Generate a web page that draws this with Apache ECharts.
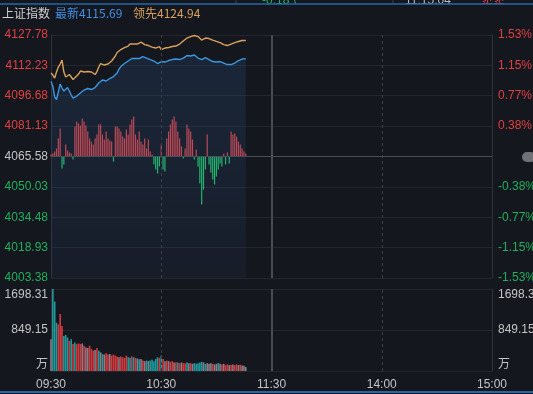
<!DOCTYPE html>
<html><head><meta charset="utf-8">
<script src="https://cdn.jsdelivr.net/npm/echarts@6/dist/echarts.min.js"></script>
<style>html,body{margin:0;padding:0;background:#15171f;}#c{width:533px;height:394px;}</style>
</head><body><div id="c"></div>
<script>
const tickTimes = ['09:30','10:30','11:30','14:00','15:00'];
const priceTicks = ['4003.38','4018.93','4034.48','4050.03','4065.58','4081.13','4096.68','4112.23','4127.78'];
const pctTicks = ['-1.53%','-1.15%','-0.77%','-0.38%','','0.38%','0.77%','1.15%','1.53%'];
const volTicks = ['万','849.15','1698.31'];
const preClose = 4065.58;
const priceMin = 4003.38, priceMax = 4127.78, priceStep = 15.55;
const volMax = 1698.31;

// 最新 (index)
const latest = [4103.96,4101.65,4096.03,4094.75,4098.58,4102.68,4100.63,4099.10,4100.12,4100.89,
4099.10,4097.05,4095.51,4094.75,4096.54,4097.31,4098.07,4098.33,4099.61,4100.12,
4100.38,4100.63,4099.86,4099.86,4100.89,4101.65,4103.19,4104.21,4104.73,4104.47,
4104.21,4104.98,4105.49,4106.26,4106.52,4107.03,4108.31,4110.35,4111.63,4112.40,
4113.17,4113.68,4114.45,4115.21,4115.73,4115.98,4115.73,4115.21,4115.73,4116.49,
4116.75,4116.24,4115.98,4115.73,4115.21,4114.96,4114.45,4113.94,4113.17,4113.68,
4114.19,4114.45,4113.94,4114.19,4114.70,4115.21,4115.21,4115.73,4115.47,4115.21,
4115.21,4115.47,4115.98,4116.49,4117.26,4117.52,4117.01,4117.01,4117.52,4117.01,
4115.98,4115.47,4115.21,4115.98,4116.24,4115.73,4115.21,4114.70,4114.19,4113.68,
4113.94,4114.19,4114.19,4113.68,4113.43,4113.17,4112.66,4112.40,4112.66,4113.17,
4113.43,4114.19,4114.70,4115.21,4115.47,4115.57,4115.69];
// 领先
const leading = [4108.31,4107.28,4105.75,4108.82,4111.38,4112.91,4114.96,4108.82,4106.26,4106.77,
4107.54,4106.26,4104.98,4105.75,4106.77,4107.80,4109.33,4109.84,4108.82,4108.31,
4109.07,4109.48,4108.82,4108.05,4107.54,4109.07,4111.38,4113.17,4112.66,4112.40,
4112.91,4112.91,4113.42,4114.45,4115.47,4117.01,4118.80,4119.82,4120.33,4121.10,
4121.36,4121.61,4122.12,4123.15,4123.66,4123.15,4122.89,4123.15,4123.66,4124.17,
4123.66,4122.89,4122.63,4122.38,4121.87,4121.61,4121.36,4121.10,4121.61,4121.87,
4120.33,4120.84,4121.10,4121.36,4121.36,4121.61,4121.87,4121.87,4122.12,4122.63,
4123.15,4123.66,4124.68,4125.70,4126.22,4126.47,4126.98,4127.24,4127.50,4127.75,
4126.98,4126.22,4125.19,4124.94,4126.22,4126.47,4125.96,4125.45,4125.19,4124.94,
4124.53,4124.17,4123.91,4123.40,4122.89,4122.63,4122.38,4122.89,4123.15,4123.66,
4123.91,4124.17,4124.43,4124.68,4124.94,4125.19,4124.94];
// red/green strength bars (points around previous close)
const strength = [1.0,1.5,2.6,4.1,9.2,14.3,-6.1,-4.1,6.1,3.1,
2.0,1.5,-1.5,15.4,17.9,16.9,15.9,19.4,17.9,15.9,
12.8,9.2,7.7,6.1,9.2,11.3,16.4,16.4,11.3,8.7,
12.8,9.2,8.2,7.7,-2.6,15.4,15.4,14.3,12.8,10.2,
9.2,13.8,11.3,16.4,18.9,20.5,11.3,8.7,12.8,7.7,
6.1,9.2,4.1,8.7,2.6,1.0,-4.1,-6.7,-8.7,-5.1,
6.1,-6.7,-7.7,9.2,12.8,16.4,18.9,20.5,17.9,12.8,
9.2,5.1,-1.0,4.1,16.4,14.3,12.8,8.7,-1.5,3.6,
-5.1,-13.8,-24.6,-16.9,-6.7,11.3,-4.1,-8.2,-11.8,-14.3,
-10.2,-6.7,-3.6,-5.1,1.5,-4.1,2.0,-3.6,12.8,11.3,
11.8,10.2,7.7,6.1,4.1,2.6,1.5];
// volume (万)
const volume = [659,1698,1440,999,965,1182,931,727,747,693,
625,659,557,591,557,571,557,571,523,489,
476,523,455,421,435,476,421,387,353,340,
367,340,353,319,340,319,299,285,299,285,
272,319,285,272,299,285,272,258,245,251,
217,204,217,204,217,231,204,251,285,272,
319,251,204,217,204,190,204,177,183,177,
163,177,163,163,177,163,163,149,163,149,
163,177,190,177,149,163,149,163,149,136,
149,163,149,136,149,122,136,122,129,136,
122,136,122,129,115,109,82];
// volume direction: r up, g down, n flat
const volDir = ['n','g','g','g','r','r','r','g','g','g',
'r','g','r','g','r','r','r','n','r','n',
'n','r','r','r','n','r','g','n','g','n',
'r','r','n','r','r','r','r','n','r','r',
'r','r','g','g','r','g','r','n','g','n',
'r','n','g','n','g','g','g','g','g','r',
'g','r','n','r','n','r','r','n','r','g',
'r','n','r','r','g','n','r','n','g','g',
'g','g','g','n','g','n','n','n','r','n',
'n','g','n','r','n','r','r','n','r','n',
'r','r','n','r','n','n','n'];

function pad(n){return (n<10?'0':'')+n;}
function buildTimes(){
  const t=[];
  for(let m=9*60+30;m<=11*60+30;m++) t.push(pad(Math.floor(m/60))+':'+pad(m%60));
  for(let m=13*60+1;m<=15*60;m++) t.push(pad(Math.floor(m/60))+':'+pad(m%60));
  return t;
}
const times = buildTimes();

const RED='#e0403f', GREEN='#1faf5c', GREY='#c4c4c4';
const FONT='"Liberation Sans", Arial, "Noto Sans CJK SC", sans-serif';
const gridLine='#23262f', borderLine='#2e323c';
const span = priceMax - preClose;

function priceColor(v){ const n=Number(v); return Math.abs(n-preClose)<0.001?GREY:(n>preClose?RED:GREEN); }
const volColors = {r:'#d23a3e', g:'#1f9a9c', n:'#8c7c88'};

const vLines = [
  {xAxis:'10:30', lineStyle:{type:[3,3], color:'#3a3e4a', width:1}},
  {xAxis:'11:30', lineStyle:{type:'solid', color:'#474b57', width:2}},
  {xAxis:'14:00', lineStyle:{type:[3,3], color:'#3a3e4a', width:1}}
];
const markV = {silent:true, symbol:['none','none'], label:{show:false}, data:vLines, animation:false};

const chart = echarts.init(document.getElementById('c'), null, {renderer:'canvas'});
chart.setOption({
  backgroundColor:'#15171f',
  animation:false,
  textStyle:{fontFamily:FONT},
  grid:[
    {left:51, top:35, width:441, height:243, containLabel:false, outerBoundsMode:'none'},
    {left:51, top:289, width:441, height:82, containLabel:false, outerBoundsMode:'none'}
  ],
  xAxis:[
    {type:'category', gridIndex:0, data:times, boundaryGap:false,
     axisLine:{show:false}, axisTick:{show:false}, axisLabel:{show:false}, splitLine:{show:false}},
    {type:'category', gridIndex:1, data:times, boundaryGap:false,
     axisLine:{show:false}, axisTick:{show:false}, splitLine:{show:false},
     axisLabel:{show:true, color:'#c4c4c4', fontSize:12, fontFamily:FONT, margin:8, hideOverlap:false,
       interval:(i,v)=>tickTimes.indexOf(v)>=0}}
  ],
  yAxis:[
    {type:'value', gridIndex:0, position:'left', min:priceMin, max:priceMax, interval:priceStep,
     axisLine:{show:true, lineStyle:{color:borderLine}}, axisTick:{show:false},
     splitLine:{show:true, lineStyle:{color:gridLine}},
     axisLabel:{margin:3, fontSize:12, fontFamily:FONT, formatter:(v,i)=>priceTicks[i], color:(v)=>priceColor(v)}},
    {type:'value', gridIndex:0, position:'right', min:priceMin, max:priceMax, interval:priceStep,
     axisLine:{show:true, lineStyle:{color:borderLine}}, axisTick:{show:false}, splitLine:{show:false},
     axisLabel:{margin:6, fontSize:12, fontFamily:FONT, formatter:(v,i)=>pctTicks[i], color:(v)=>priceColor(v)}},
    {type:'value', gridIndex:0, min:-span, max:span, show:false, splitLine:{show:false}},
    {type:'value', gridIndex:1, position:'left', min:0, max:volMax, interval:volMax/2,
     axisLine:{show:true, lineStyle:{color:borderLine}}, axisTick:{show:false},
     splitLine:{show:true, lineStyle:{color:gridLine}},
     axisLabel:{margin:3, fontSize:12, fontFamily:FONT, color:GREY, formatter:(v,i)=>volTicks[i],
       verticalAlignMinLabel:'bottom', verticalAlignMaxLabel:'top'}},
    {type:'value', gridIndex:1, position:'right', min:0, max:volMax, interval:volMax/2,
     axisLine:{show:true, lineStyle:{color:borderLine}}, axisTick:{show:false}, splitLine:{show:false},
     axisLabel:{margin:6, fontSize:12, fontFamily:FONT, color:GREY, formatter:(v,i)=>volTicks[i],
       verticalAlignMinLabel:'bottom', verticalAlignMaxLabel:'top'}}
  ],
  series:[
    {type:'bar', xAxisIndex:0, yAxisIndex:2, data:strength, barWidth:1.2, z:1,
     itemStyle:{color:(p)=>p.value>=0?'#d8454a':'#22c267'}, markLine:markV},
    {type:'line', xAxisIndex:0, yAxisIndex:0, data:latest, symbol:'none', z:3,
     lineStyle:{color:'#3a97e0', width:1.4},
     areaStyle:{origin:'start', color:new echarts.graphic.LinearGradient(0,0,0,1,[
       {offset:0,color:'rgba(45,95,150,0.30)'},{offset:1,color:'rgba(45,95,150,0.12)'}])},
     markLine:{silent:true, symbol:['none','none'], label:{show:false}, animation:false,
       data:[{yAxis:preClose, lineStyle:{color:'#4a4e5a', type:'solid', width:1}}]}},
    {type:'line', xAxisIndex:0, yAxisIndex:0, data:leading, symbol:'none', z:3,
     lineStyle:{color:'#d9a15a', width:1.4}},
    {type:'bar', xAxisIndex:1, yAxisIndex:3, data:volume, barWidth:1.6, z:2,
     itemStyle:{color:(p)=>volColors[volDir[p.dataIndex]]}, markLine:markV}
  ],
  graphic:[
    {type:'text', x:262, y:7, z:1, style:{text:'-0.18 \\', fill:'#22b85e', font:'12px "Liberation Sans"', verticalAlign:'bottom'}},
    {type:'text', x:405, y:7, z:1, style:{text:'11:15:04', fill:'#b8b8b8', font:'12px "Liberation Sans"', verticalAlign:'bottom'}},
    {type:'text', x:481, y:7, z:1, style:{text:'卖卖', fill:'#d8403f', font:'12px "Noto Sans CJK SC"', verticalAlign:'bottom'}},
    {type:'rect', z:2, shape:{x:0,y:4,width:533,height:8}, style:{fill:'#15171f'}},
    {type:'line', z:3, shape:{x1:236,y1:0,x2:236,y2:4}, style:{stroke:'#3a3e4a', lineWidth:1}},
    {type:'line', z:3, shape:{x1:393,y1:0,x2:393,y2:4}, style:{stroke:'#3a3e4a', lineWidth:1}},
    {type:'line', z:3, shape:{x1:0,y1:4,x2:533,y2:4}, style:{stroke:'#2467a8', lineWidth:1.5}},
    {type:'line', z:3, shape:{x1:0,y1:392,x2:533,y2:392}, style:{stroke:'#2467a8', lineWidth:2}},
    {type:'rect', z:3, shape:{x:522,y:152,width:14,height:10,r:5}, style:{fill:'rgba(190,190,190,0.55)'}},
    {type:'text', z:3, left:2, top:7, style:{text:'上证指数', fill:'#cfcfcf', font:'12px "Noto Sans CJK SC"'}},
    {type:'text', z:3, left:55, top:7, style:{text:'最新'+latest[latest.length-1].toFixed(2), fill:'#3f8fe3', font:'12px "Noto Sans CJK SC"'}},
    {type:'text', z:3, left:133, top:7, style:{text:'领先'+leading[leading.length-1].toFixed(2), fill:'#d6a15c', font:'12px "Noto Sans CJK SC"'}}
  ]
});
</script></body></html>
